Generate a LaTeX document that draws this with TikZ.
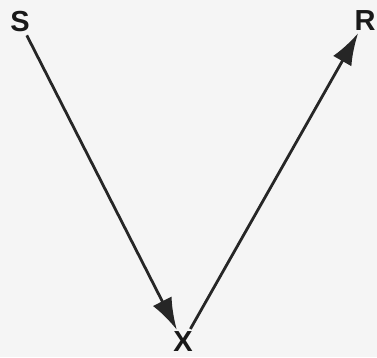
\documentclass[tikz,border=0pt]{standalone}
\usepackage{fontspec}
\setmainfont{Liberation Sans}
\usetikzlibrary{arrows.meta}
\begin{document}
\begin{tikzpicture}[x=1pt,y=-1pt,
  lbl/.style={font=\fontsize{29}{31}\selectfont\bfseries, inner sep=2pt, text=black!90},
  conn/.style={line width=2.8pt, draw=black!85, -{Latex[length=32pt,width=21pt]}}]
\fill[black!4] (0,0) rectangle (377,357);
\useasboundingbox (0,0) rectangle (377,357);
\node[lbl] (S) at (20,22) {S};
\node[lbl] (R) at (365,21) {R};
\node[lbl] (X) at (183,342) {X};
\draw[conn, shorten <=1pt] (S) -- (X);
\draw[conn, shorten <=1pt] (X) -- (R);
\end{tikzpicture}
\end{document}
